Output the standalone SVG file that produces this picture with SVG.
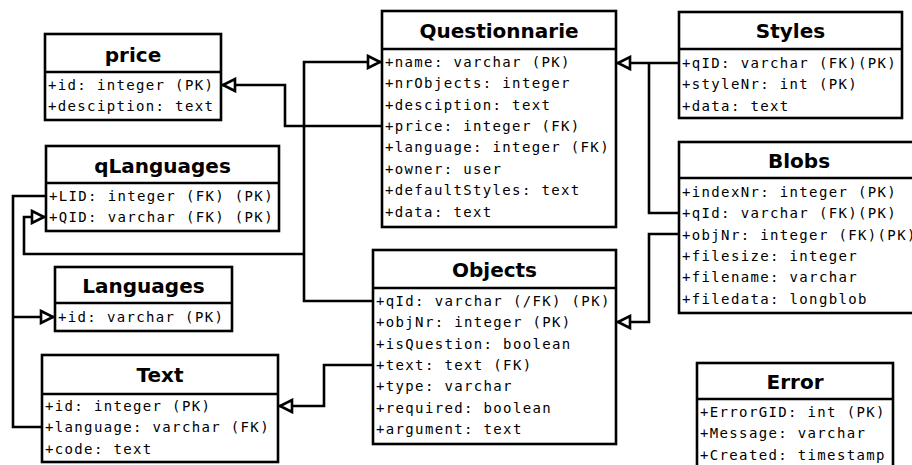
<svg xmlns="http://www.w3.org/2000/svg" width="912" height="465" viewBox="0 0 912 465">
  <defs>
    <style>
      .box { fill: #ffffff; stroke: #000000; stroke-width: 2.6; }
      .div { stroke: #000000; stroke-width: 2.6; }
      .title { font-family: "DejaVu Sans", "Liberation Sans", sans-serif; font-weight: bold; font-size: 20px; text-anchor: middle; fill: #000000; }
      .attr { font-family: "DejaVu Sans Mono", "Liberation Mono", monospace; font-size: 14px; letter-spacing: 1.35px; fill: #000000; }
      .conn { fill: none; stroke: #000000; stroke-width: 2.6; marker-end: url(#hollow); }
      .plain { fill: none; stroke: #000000; stroke-width: 2.6; }
    </style>
    <marker id="hollow" viewBox="0 0 18 16" refX="16" refY="8" markerWidth="18" markerHeight="16" markerUnits="userSpaceOnUse" orient="auto">
      <polygon points="3,2 15,8 3,14" fill="#ffffff" stroke="#000000" stroke-width="2.6"/>
    </marker>
  </defs>
  <rect width="912" height="465" fill="#ffffff"/>

  <!-- foreign key connectors -->
  <g id="connectors">
    <path class="conn" d="M382,126 H285 V85 H222"/>
    <path class="conn" d="M373,301 H304 V62 H381"/>
    <path class="conn" d="M304,254 H24 V217 H45"/>
    <path class="plain" d="M46,196 H13 V427 H42"/>
    <path class="conn" d="M13,317 H54"/>
    <path class="conn" d="M373,365 H324 V406 H279"/>
    <path class="conn" d="M679,63 H617"/>
    <path class="plain" d="M679,213 H649 V63"/>
    <path class="conn" d="M679,234 H649 V322 H617"/>
  </g>

  <g id="price">
    <rect class="box" x="45" y="34" width="176" height="86"/>
    <line class="div" x1="45" y1="72" x2="221" y2="72"/>
    <text class="title" x="133" y="61.5">price</text>
    <text class="attr" x="48" y="90">+id: integer (PK)</text>
    <text class="attr" x="48" y="111.4">+desciption: text</text>
  </g>

  <g id="qLanguages">
    <rect class="box" x="46" y="146" width="233" height="85"/>
    <line class="div" x1="46" y1="183" x2="279" y2="183"/>
    <text class="title" x="162.5" y="173">qLanguages</text>
    <text class="attr" x="49" y="201">+LID: integer (FK) (PK)</text>
    <text class="attr" x="49" y="222.4">+QID: varchar (FK) (PK)</text>
  </g>

  <g id="Questionnarie">
    <rect class="box" x="382" y="11" width="234" height="216"/>
    <line class="div" x1="382" y1="49" x2="616" y2="49"/>
    <text class="title" x="499" y="38">Questionnarie</text>
    <text class="attr" x="385" y="66.7">+name: varchar (PK)</text>
    <text class="attr" x="385" y="88.1">+nrObjects: integer</text>
    <text class="attr" x="385" y="109.5">+desciption: text</text>
    <text class="attr" x="385" y="130.9">+price: integer (FK)</text>
    <text class="attr" x="385" y="152.3">+language: integer (FK)</text>
    <text class="attr" x="385" y="173.7">+owner: user</text>
    <text class="attr" x="385" y="195.1">+defaultStyles: text</text>
    <text class="attr" x="385" y="216.5">+data: text</text>
  </g>

  <g id="Styles">
    <rect class="box" x="679" y="12" width="223" height="106"/>
    <line class="div" x1="679" y1="49" x2="902" y2="49"/>
    <text class="title" x="790.5" y="38">Styles</text>
    <text class="attr" x="682" y="67.7">+qID: varchar (FK)(PK)</text>
    <text class="attr" x="682" y="89.1">+styleNr: int (PK)</text>
    <text class="attr" x="682" y="110.5">+data: text</text>
  </g>

  <g id="Blobs">
    <rect class="box" x="679" y="142" width="240" height="171"/>
    <line class="div" x1="679" y1="178" x2="919" y2="178"/>
    <text class="title" x="799" y="168">Blobs</text>
    <text class="attr" x="682" y="196.7">+indexNr: integer (PK)</text>
    <text class="attr" x="682" y="218.1">+qId: varchar (FK)(PK)</text>
    <text class="attr" x="682" y="239.5">+objNr: integer (FK)(PK)</text>
    <text class="attr" x="682" y="260.9">+filesize: integer</text>
    <text class="attr" x="682" y="282.3">+filename: varchar</text>
    <text class="attr" x="682" y="303.7">+filedata: longblob</text>
  </g>

  <g id="Languages">
    <rect class="box" x="55" y="267" width="177" height="64"/>
    <line class="div" x1="55" y1="303" x2="232" y2="303"/>
    <text class="title" x="143.5" y="293">Languages</text>
    <text class="attr" x="58" y="322.3">+id: varchar (PK)</text>
  </g>

  <g id="Objects">
    <rect class="box" x="373" y="250" width="243" height="194"/>
    <line class="div" x1="373" y1="288" x2="616" y2="288"/>
    <text class="title" x="494.5" y="276.7">Objects</text>
    <text class="attr" x="376" y="305.7">+qId: varchar (/FK) (PK)</text>
    <text class="attr" x="376" y="327.1">+objNr: integer (PK)</text>
    <text class="attr" x="376" y="348.5">+isQuestion: boolean</text>
    <text class="attr" x="376" y="369.9">+text: text (FK)</text>
    <text class="attr" x="376" y="391.3">+type: varchar</text>
    <text class="attr" x="376" y="412.7">+required: boolean</text>
    <text class="attr" x="376" y="434.1">+argument: text</text>
  </g>

  <g id="Text">
    <rect class="box" x="42" y="355" width="236" height="107"/>
    <line class="div" x1="42" y1="394" x2="278" y2="394"/>
    <text class="title" x="160" y="381.7">Text</text>
    <text class="attr" x="45" y="411">+id: integer (PK)</text>
    <text class="attr" x="45" y="432.4">+language: varchar (FK)</text>
    <text class="attr" x="45" y="453.8">+code: text</text>
  </g>

  <g id="Error">
    <rect class="box" x="697" y="363" width="196" height="110"/>
    <line class="div" x1="697" y1="399" x2="893" y2="399"/>
    <text class="title" x="795" y="389">Error</text>
    <text class="attr" x="700" y="416.7">+ErrorGID: int (PK)</text>
    <text class="attr" x="700" y="438.1">+Message: varchar</text>
    <text class="attr" x="700" y="459.5">+Created: timestamp</text>
  </g>
</svg>
